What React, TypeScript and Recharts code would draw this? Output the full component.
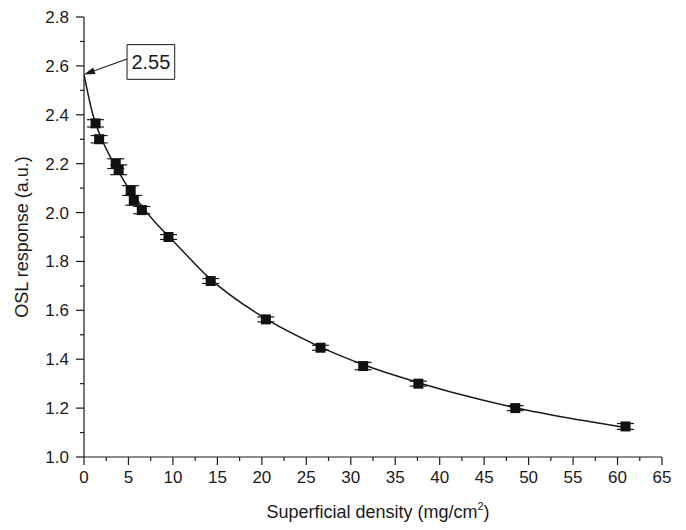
import React from 'react';
import { ComposedChart, Scatter, Line, XAxis, YAxis, ErrorBar, ReferenceArea, ReferenceLine } from 'recharts';

// measured points
const densities = [1.3, 1.7, 3.57, 3.9, 5.25, 5.6, 6.5, 9.5, 14.25, 20.45, 26.6, 31.4, 37.6, 48.5, 60.9];
const responses = [2.365, 2.30, 2.20, 2.175, 2.09, 2.05, 2.01, 1.90, 1.72, 1.563, 1.447, 1.372, 1.30, 1.20, 1.125];
const errors = [0.015, 0.015, 0.02, 0.02, 0.02, 0.02, 0.015, 0.01, 0.01, 0.01, 0.01, 0.015, 0.01, 0.01, 0.012];

// fitted curve
const fitX = [0, 1, 2, 3, 4, 5, 6, 8, 10, 14, 20, 26, 32, 38, 44, 50, 56, 61];
const fitY = [2.565, 2.40, 2.30, 2.225, 2.16, 2.10, 2.05, 1.96, 1.885, 1.735, 1.575, 1.46, 1.37, 1.30, 1.24, 1.19, 1.15, 1.12];

const xTicks = [0, 2.5, 5, 7.5, 10, 12.5, 15, 17.5, 20, 22.5, 25, 27.5, 30, 32.5, 35, 37.5, 40, 42.5, 45, 47.5, 50, 52.5, 55, 57.5, 60, 62.5, 65];
const yTicks = [1.0, 1.1, 1.2, 1.3, 1.4, 1.5, 1.6, 1.7, 1.8, 1.9, 2.0, 2.1, 2.2, 2.3, 2.4, 2.5, 2.6, 2.7, 2.8];

const points = densities.map((x, i) => ({ x, y: responses[i], err: errors[i] }));
const fit = fitX.map((x, i) => ({ x, y: fitY[i] }));

const INK = '#1a1a1a';
const FONT = 'Liberation Sans, Arial, sans-serif';

// tick marks drawn as thin rects (line elements get lost inside custom ticks)
const XTick = (props: any) => {
  const { x, y, payload } = props;
  const major = payload.value % 5 === 0;
  return (
    <g>
      <rect x={x - 0.6} y={y} width={1.2} height={major ? 8 : 4} fill={INK} />
      {major && (
        <text x={x} y={y + 26} textAnchor="middle" fontSize={17} fontFamily={FONT} fill={INK}>
          {payload.value}
        </text>
      )}
    </g>
  );
};

const YTick = (props: any) => {
  const { x, y, payload } = props;
  const major = Math.round(payload.value * 10) % 2 === 0;
  const len = major ? 8 : 4;
  return (
    <g>
      <rect x={x - len} y={y - 0.6} width={len} height={1.2} fill={INK} />
      {major && (
        <text x={x - 15} y={y + 6} textAnchor="end" fontSize={17} fontFamily={FONT} fill={INK}>
          {payload.value.toFixed(1)}
        </text>
      )}
    </g>
  );
};

const XTitle = () => (
  <text x={378} y={518} textAnchor="middle" fontSize={18} fontFamily={FONT} fill={INK}>
    <tspan>Superficial density (mg/cm</tspan>
    <tspan dy={-8} fontSize={11}>2</tspan>
    <tspan dy={8}>)</tspan>
  </text>
);

const YTitle = (props: any) => {
  const { viewBox } = props;
  const cy = viewBox.y + viewBox.height / 2;
  return (
    <text x={28} y={cy} transform={`rotate(-90, 28, ${cy})`} textAnchor="middle" fontSize={18} fontFamily={FONT} fill={INK}>
      OSL response (a.u.)
    </text>
  );
};

const Arrow = (props: any) => {
  const { x1, y1, x2, y2 } = props;
  const ang = Math.atan2(y2 - y1, x2 - x1);
  const len = 11;
  const w = 3.5;
  const bx = x2 - len * Math.cos(ang);
  const by = y2 - len * Math.sin(ang);
  const px = -Math.sin(ang) * w;
  const py = Math.cos(ang) * w;
  return (
    <g>
      <line x1={x1} y1={y1} x2={bx} y2={by} stroke={INK} strokeWidth={1.2} />
      <polygon points={`${x2},${y2} ${bx + px},${by + py} ${bx - px},${by - py}`} fill={INK} />
    </g>
  );
};

const Square = (props: any) => {
  const { cx, cy } = props;
  return <rect x={cx - 5} y={cy - 5} width={10} height={10} fill="#111" />;
};

export default function App() {
  return (
    <div style={{ position: 'absolute', left: 0, top: 0, background: '#fff' }}>
      <ComposedChart width={686} height={530} margin={{ top: 17, right: 24, bottom: 0, left: 0 }}>
        <XAxis
          type="number"
          dataKey="x"
          domain={[0, 65]}
          ticks={xTicks}
          interval={0}
          height={73}
          tickSize={0}
          tickMargin={0}
          tickLine={false}
          tick={<XTick />}
          axisLine={{ stroke: INK, strokeWidth: 1.2 }}
          label={<XTitle />}
          allowDataOverflow
        />
        <YAxis
          type="number"
          domain={[1.0, 2.8]}
          ticks={yTicks}
          interval={0}
          width={84}
          tickSize={0}
          tickMargin={0}
          tickLine={false}
          tick={<YTick />}
          axisLine={{ stroke: INK, strokeWidth: 1.2 }}
          label={<YTitle />}
          allowDataOverflow
        />
        <Line
          data={fit}
          dataKey="y"
          type="monotone"
          dot={false}
          activeDot={false}
          stroke={INK}
          strokeWidth={1.5}
          isAnimationActive={false}
        />
        <Scatter data={points} dataKey="y" shape={<Square />} isAnimationActive={false}>
          <ErrorBar dataKey="err" direction="y" width={8.5} stroke={INK} strokeWidth={1.2} />
        </Scatter>
        <ReferenceLine
          segment={[{ x: 4.84, y: 2.628 }, { x: 0, y: 2.565 }]}
          shape={<Arrow />}
        />
        <ReferenceArea
          x1={4.84}
          x2={10.2}
          y1={2.545}
          y2={2.687}
          fill="#fff"
          fillOpacity={1}
          stroke={INK}
          strokeWidth={1}
          label={{ value: '2.55', position: 'center', fontSize: 20, fill: INK, fontFamily: FONT }}
        />
      </ComposedChart>
    </div>
  );
}
